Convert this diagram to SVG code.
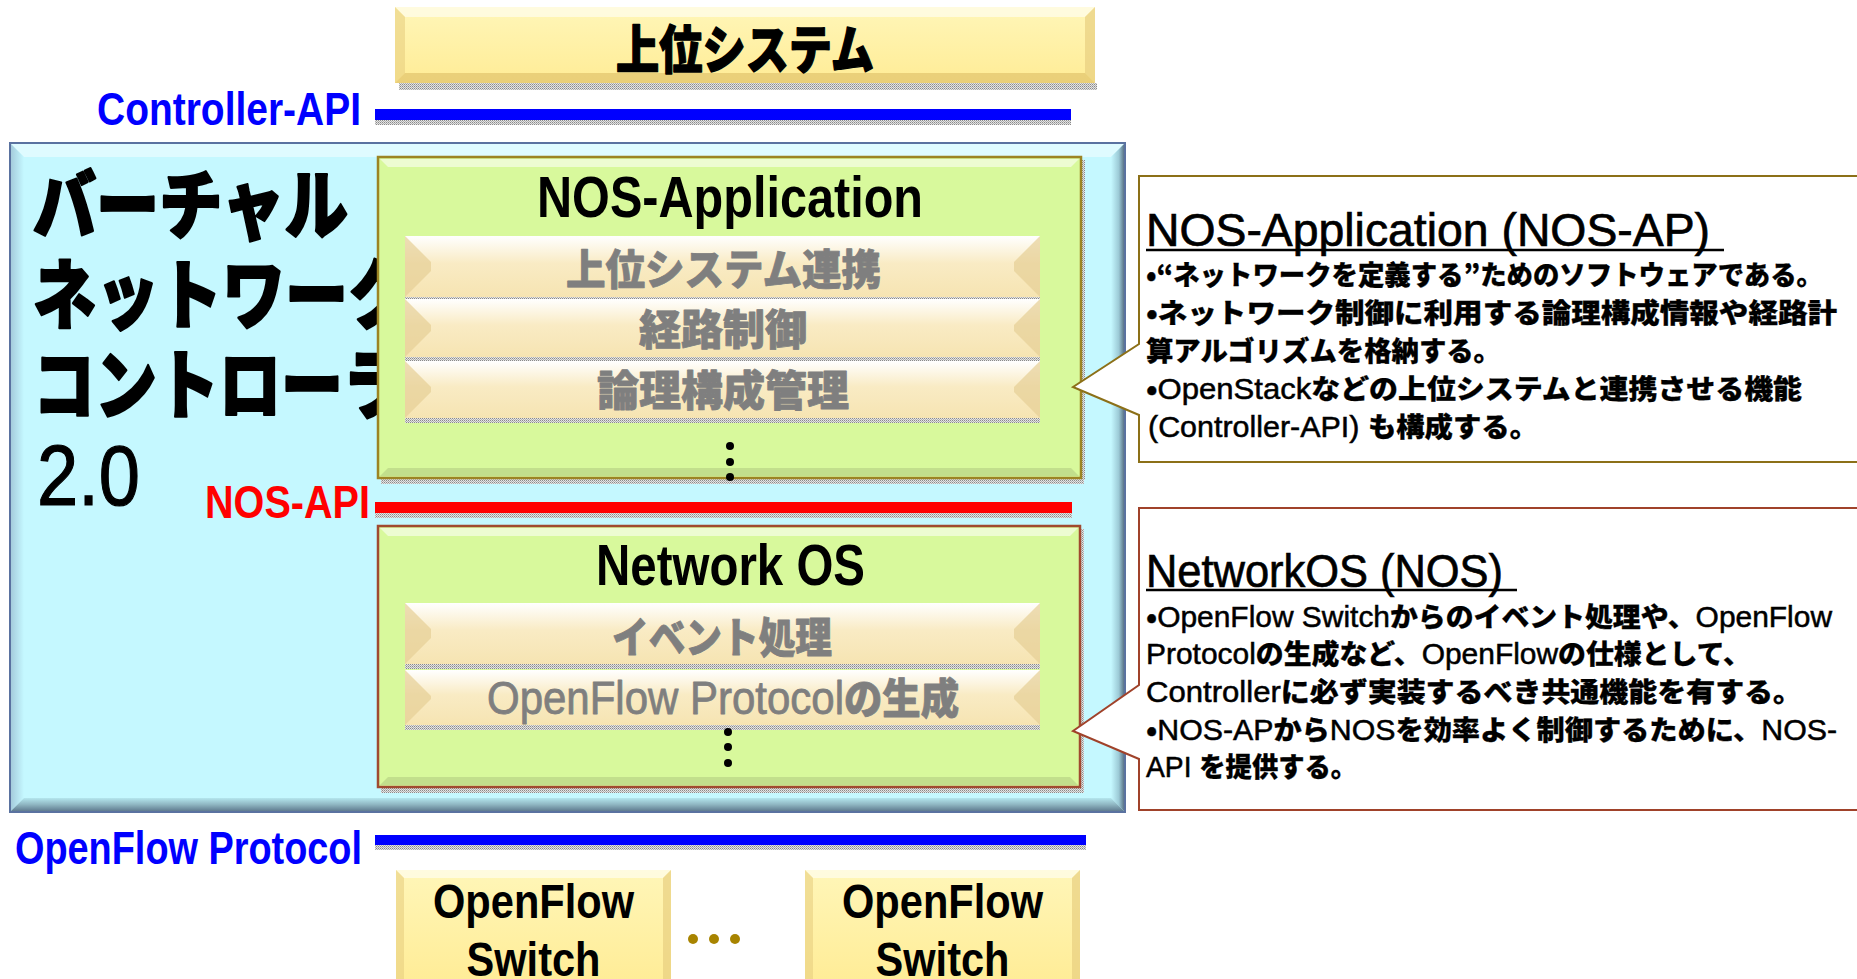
<svg xmlns="http://www.w3.org/2000/svg" width="1857" height="979" viewBox="0 0 1857 979">
  <style>
    .jp { font-family: "Noto Sans CJK JP", sans-serif; font-weight: 900; }
    .lat { font-family: "Liberation Sans", "Noto Sans CJK JP", sans-serif; font-weight: 400; }
    .latb { font-family: "Liberation Sans", "Noto Sans CJK JP", sans-serif; font-weight: 700; }
    .title { font-size: 76px; fill: #000; stroke: #000; stroke-width: 2.2px; stroke-linejoin: round; }
    .api { font-size: 46px; }
    .boxhead { font-size: 58px; fill: #000; }
    .sub { font-size: 42px; fill: #7f7f7f; stroke: #7f7f7f; stroke-width: 0.8px; stroke-linejoin: round; }
    .calhead { font-size: 47px; fill: #000; stroke: #000; stroke-width: 0.7px; }
    .cb { font-size: 27px; fill: #000; stroke: #000; stroke-width: 0.3px; }
    .cb .lat { font-size: 29px; stroke-width: 0.5px; }
    .sw { font-size: 48px; fill: #000; }
    .shadow { fill: url(#dither); }
    .hl { fill: #ffffff; opacity: 0.55; }
    .dk { fill: #000000; opacity: 0.10; }
  </style>
  <defs>
    <pattern id="dither" width="2" height="2" patternUnits="userSpaceOnUse">
      <rect width="2" height="2" fill="#e4e4e4"/>
      <rect width="1" height="1" fill="#8a8a8a"/>
      <rect x="1" y="1" width="1" height="1" fill="#b0b0b0"/>
    </pattern>
    <linearGradient id="subFill" x1="0" y1="0" x2="0" y2="1">
      <stop offset="0" stop-color="#ffffff"/>
      <stop offset="0.45" stop-color="#f9ebc4"/>
      <stop offset="1" stop-color="#f6e4b2"/>
    </linearGradient>
    <linearGradient id="yelFill" x1="0" y1="0" x2="0" y2="1">
      <stop offset="0" stop-color="#fff6b8"/>
      <stop offset="1" stop-color="#ffec96"/>
    </linearGradient>
    <linearGradient id="cyanRight" x1="0" y1="0" x2="1" y2="0">
      <stop offset="0" stop-color="#c5f8ff"/>
      <stop offset="0.6" stop-color="#9ccad6"/>
      <stop offset="1" stop-color="#5b7488"/>
    </linearGradient>
    <linearGradient id="cyanBottom" x1="0" y1="0" x2="0" y2="1">
      <stop offset="0" stop-color="#b4e6ee"/>
      <stop offset="0.5" stop-color="#8fb6c2"/>
      <stop offset="1" stop-color="#607c90"/>
    </linearGradient>
    <linearGradient id="cyanLeft" x1="0" y1="0" x2="1" y2="0">
      <stop offset="0" stop-color="#8aa8c0"/>
      <stop offset="1" stop-color="#c5f8ff"/>
    </linearGradient>
  </defs>

  <!-- upper system block -->
  <g id="upper-system">
    <rect class="shadow" x="399" y="83" width="698" height="7"/>
    <rect x="395" y="7" width="700" height="76" fill="url(#yelFill)"/>
    <polygon class="hl" points="395,7 1095,7 1085,17 405,17"/>
    <polygon points="395,7 405,17 405,73 395,83" fill="#e8cf80" opacity="0.6"/>
    <polygon points="1095,7 1085,17 1085,73 1095,83" fill="#e8cf80" opacity="0.7"/>
    <polygon points="395,83 1095,83 1085,73 405,73" fill="#d9b860" opacity="0.55"/>
    <text class="jp" x="616" y="69" font-size="52" stroke="#000" stroke-width="1.4" stroke-linejoin="round" textLength="258" lengthAdjust="spacingAndGlyphs">上位システム</text>
  </g>

  <!-- controller frame -->
  <g id="controller">
    <rect x="10" y="143" width="1115" height="669" fill="#c5f8ff" stroke="#5a72a0" stroke-width="2"/>
    <polygon points="11,144 1124,144 1111,157 24,157" fill="#ffffff" opacity="0.45"/>
    <polygon points="11,144 24,157 24,798 11,811" fill="url(#cyanLeft)" opacity="0.55"/>
    <polygon points="1124,144 1111,157 1111,798 1124,811" fill="url(#cyanRight)"/>
    <polygon points="11,811 1124,811 1111,798 24,798" fill="url(#cyanBottom)"/>
    <text class="jp title" x="33" y="233" textLength="315" lengthAdjust="spacingAndGlyphs">バーチャル</text>
    <text class="jp title" x="33" y="323" textLength="378" lengthAdjust="spacingAndGlyphs">ネットワーク</text>
    <text class="jp title" x="33" y="413" textLength="372" lengthAdjust="spacingAndGlyphs">コントローラ</text>
    <text class="lat" x="37" y="505" font-size="86" stroke="#000" stroke-width="1.2" textLength="103" lengthAdjust="spacingAndGlyphs">2.0</text>
  </g>

  <!-- NOS-Application -->
  <g id="nos-application">
    <rect class="shadow" x="381" y="478" width="703" height="6"/>
    <rect class="shadow" x="1081" y="160" width="4" height="320"/>
    <rect x="378" y="157" width="703" height="321" fill="#d8f99c" stroke="#9c8424" stroke-width="2.5"/>
    <polygon class="hl" points="380,159 1079,159 1071,167 388,167"/>
    <polygon class="dk" points="380,476 1079,476 1071,468 388,468"/>
    <text class="latb boxhead" x="537" y="217" textLength="386" lengthAdjust="spacingAndGlyphs">NOS-Application</text>

    <g id="sub-upper-link">
      <rect class="shadow" x="405" y="297" width="635" height="4"/>
      <rect x="405" y="236" width="635" height="61" fill="url(#subFill)"/>
      <polygon points="405,236 431,262 431,271 405,297" fill="#e6cf95" opacity="0.7"/>
      <polygon points="1040,236 1014,262 1014,271 1040,297" fill="#e6cf95" opacity="0.7"/>
      <text class="jp sub" x="566" y="285" textLength="315" lengthAdjust="spacingAndGlyphs">上位システム連携</text>
    </g>
    <g id="sub-routing">
      <rect class="shadow" x="405" y="357" width="635" height="4"/>
      <rect x="405" y="299" width="635" height="58" fill="url(#subFill)"/>
      <polygon points="405,299 431,325 431,331 405,357" fill="#e6cf95" opacity="0.7"/>
      <polygon points="1040,299 1014,325 1014,331 1040,357" fill="#e6cf95" opacity="0.7"/>
      <text class="jp sub" x="639" y="345" textLength="168" lengthAdjust="spacingAndGlyphs">経路制御</text>
    </g>
    <g id="sub-logical-config">
      <rect class="shadow" x="405" y="418" width="635" height="5"/>
      <rect x="405" y="361" width="635" height="57" fill="url(#subFill)"/>
      <polygon points="405,361 431,387 431,392 405,418" fill="#e6cf95" opacity="0.7"/>
      <polygon points="1040,361 1014,387 1014,392 1040,418" fill="#e6cf95" opacity="0.7"/>
      <text class="jp sub" x="597" y="406" textLength="252" lengthAdjust="spacingAndGlyphs">論理構成管理</text>
    </g>
    <circle cx="730" cy="446" r="4" fill="#000"/>
    <circle cx="730" cy="462" r="4" fill="#000"/>
    <circle cx="730" cy="477" r="4" fill="#000"/>
  </g>

  <!-- Network OS -->
  <g id="network-os">
    <rect class="shadow" x="381" y="787" width="703" height="6"/>
    <rect class="shadow" x="1080" y="529" width="4" height="260"/>
    <rect x="378" y="526" width="702" height="261" fill="#d8f99c" stroke="#a04a30" stroke-width="2.5"/>
    <polygon class="hl" points="380,528 1078,528 1070,536 388,536"/>
    <polygon class="dk" points="380,785 1078,785 1070,777 388,777"/>
    <text class="latb boxhead" x="596" y="585" textLength="269" lengthAdjust="spacingAndGlyphs">Network OS</text>

    <g id="sub-event">
      <rect class="shadow" x="405" y="664" width="635" height="5"/>
      <rect x="405" y="603" width="635" height="61" fill="url(#subFill)"/>
      <polygon points="405,603 431,629 431,638 405,664" fill="#e6cf95" opacity="0.7"/>
      <polygon points="1040,603 1014,629 1014,638 1040,664" fill="#e6cf95" opacity="0.7"/>
      <text class="jp sub" x="612" y="653" textLength="220" lengthAdjust="spacingAndGlyphs">イベント処理</text>
    </g>
    <g id="sub-protocol">
      <rect class="shadow" x="405" y="725" width="635" height="5"/>
      <rect x="405" y="670" width="635" height="55" fill="url(#subFill)"/>
      <polygon points="405,670 431,696 431,699 405,725" fill="#e6cf95" opacity="0.7"/>
      <polygon points="1040,670 1014,696 1014,699 1040,725" fill="#e6cf95" opacity="0.7"/>
      <text class="jp sub" x="487" y="714" textLength="472" lengthAdjust="spacingAndGlyphs"><tspan class="lat" font-size="46">OpenFlow Protocol</tspan>の生成</text>
    </g>
    <circle cx="728" cy="732" r="4" fill="#000"/>
    <circle cx="728" cy="747" r="4" fill="#000"/>
    <circle cx="728" cy="763" r="4" fill="#000"/>
  </g>

  <!-- interface bars -->
  <g id="connectors">
    <g id="controller-api">
      <rect class="shadow" x="375" y="120" width="696" height="5"/>
      <rect x="375" y="109" width="696" height="11" fill="#0000ff"/>
      <text class="latb api" x="97" y="125" fill="#0000ff" textLength="264" lengthAdjust="spacingAndGlyphs">Controller-API</text>
    </g>
    <g id="nos-api">
      <rect class="shadow" x="375" y="513" width="697" height="5"/>
      <rect x="375" y="502" width="697" height="11" fill="#ff0000"/>
      <text class="latb api" x="205" y="518" fill="#ff0000" textLength="165" lengthAdjust="spacingAndGlyphs">NOS-API</text>
    </g>
    <g id="openflow-protocol">
      <rect class="shadow" x="375" y="845" width="711" height="5"/>
      <rect x="375" y="835" width="711" height="10" fill="#0000ff"/>
      <text class="latb api" x="15" y="864" fill="#0000ff" textLength="347" lengthAdjust="spacingAndGlyphs">OpenFlow Protocol</text>
    </g>
  </g>

  <!-- switches -->
  <g id="switch-1">
    <rect x="396" y="870" width="275" height="115" fill="url(#yelFill)"/>
    <polygon class="hl" points="396,870 671,870 663,878 404,878"/>
    <polygon points="396,870 404,878 404,985 396,985" fill="#e8cf80" opacity="0.6"/>
    <polygon points="671,870 663,878 663,985 671,985" fill="#e8cf80" opacity="0.7"/>
    <text class="latb sw" x="533.5" y="918" text-anchor="middle" textLength="201" lengthAdjust="spacingAndGlyphs">OpenFlow</text>
    <text class="latb sw" x="533.5" y="976" text-anchor="middle" textLength="134" lengthAdjust="spacingAndGlyphs">Switch</text>
  </g>
  <g id="switch-ellipsis">
    <circle cx="693" cy="939" r="5" fill="#a88400"/>
    <circle cx="714" cy="939" r="5" fill="#a88400"/>
    <circle cx="735" cy="939" r="5" fill="#a88400"/>
  </g>
  <g id="switch-2">
    <rect x="805" y="870" width="275" height="115" fill="url(#yelFill)"/>
    <polygon class="hl" points="805,870 1080,870 1072,878 813,878"/>
    <polygon points="805,870 813,878 813,985 805,985" fill="#e8cf80" opacity="0.6"/>
    <polygon points="1080,870 1072,878 1072,985 1080,985" fill="#e8cf80" opacity="0.7"/>
    <text class="latb sw" x="942.5" y="918" text-anchor="middle" textLength="201" lengthAdjust="spacingAndGlyphs">OpenFlow</text>
    <text class="latb sw" x="942.5" y="976" text-anchor="middle" textLength="134" lengthAdjust="spacingAndGlyphs">Switch</text>
  </g>

  <!-- callout: NOS-Application -->
  <g id="callout-nos-ap">
    <path d="M1139,176 H1862 V462 H1139 V415 L1073,387 L1139,344 Z" fill="#ffffff" stroke="#8c7018" stroke-width="2"/>
    <text class="lat calhead" x="1146" y="246" textLength="564" lengthAdjust="spacingAndGlyphs">NOS-Application (NOS-AP)</text>
    <line x1="1146" y1="250" x2="1724" y2="250" stroke="#000" stroke-width="2.5"/>
    <text class="jp cb" x="1146" y="285" textLength="677" lengthAdjust="spacingAndGlyphs">•“ネットワークを定義する”ためのソフトウェアである。</text>
    <text class="jp cb" x="1146" y="323" textLength="691" lengthAdjust="spacingAndGlyphs">•ネットワーク制御に利用する論理構成情報や経路計</text>
    <text class="jp cb" x="1146" y="361" textLength="355" lengthAdjust="spacingAndGlyphs">算アルゴリズムを格納する。</text>
    <text class="jp cb" x="1146" y="399" textLength="656" lengthAdjust="spacingAndGlyphs">•<tspan class="lat">OpenStack</tspan>などの上位システムと連携させる機能</text>
    <text class="jp cb" x="1148" y="437" textLength="390" lengthAdjust="spacingAndGlyphs"><tspan class="lat">(Controller-API) </tspan>も構成する。</text>
  </g>

  <!-- callout: Network OS -->
  <g id="callout-nos">
    <path d="M1139,508 H1862 V810 H1139 V759 L1073,731 L1139,685 Z" fill="#ffffff" stroke="#a0422a" stroke-width="2"/>
    <text class="lat calhead" x="1146" y="587" textLength="357" lengthAdjust="spacingAndGlyphs">NetworkOS (NOS)</text>
    <line x1="1146" y1="590" x2="1517" y2="590" stroke="#000" stroke-width="2.5"/>
    <text class="jp cb" x="1146" y="627" textLength="686" lengthAdjust="spacingAndGlyphs">•<tspan class="lat">OpenFlow Switch</tspan>からのイベント処理や、<tspan class="lat">OpenFlow</tspan></text>
    <text class="jp cb" x="1146" y="664" textLength="605" lengthAdjust="spacingAndGlyphs"><tspan class="lat">Protocol</tspan>の生成など、<tspan class="lat">OpenFlow</tspan>の仕様として、</text>
    <text class="jp cb" x="1146" y="702" textLength="656" lengthAdjust="spacingAndGlyphs"><tspan class="lat">Controller</tspan>に必ず実装するべき共通機能を有する。</text>
    <text class="jp cb" x="1146" y="740" textLength="691" lengthAdjust="spacingAndGlyphs">•<tspan class="lat">NOS-AP</tspan>から<tspan class="lat">NOS</tspan>を効率よく制御するために、<tspan class="lat">NOS-</tspan></text>
    <text class="jp cb" x="1146" y="777" textLength="211" lengthAdjust="spacingAndGlyphs"><tspan class="lat">API </tspan>を提供する。</text>
  </g>
</svg>
